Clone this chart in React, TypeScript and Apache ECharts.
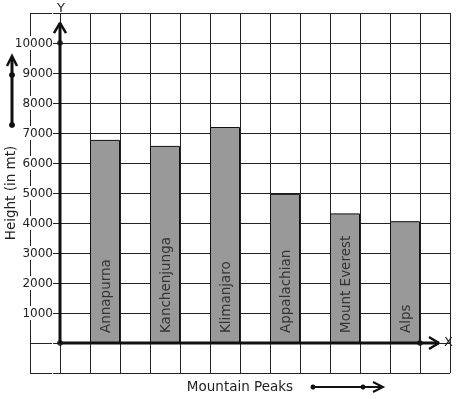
import React, { useEffect, useRef } from "react";
import * as echarts from "echarts";

const categories = ["Annapurna", "Kanchenjunga", "Klimanjaro", "Appalachian", "Mount Everest", "Alps"];
const heights = [6770, 6570, 7200, 4970, 4320, 4060];
const yTicks = [1000, 2000, 3000, 4000, 5000, 6000, 7000, 8000, 9000, 10000];

const FONT = "DejaVu Sans";

export default function App() {
  const ref = useRef<HTMLDivElement>(null);
  useEffect(() => {
    if (!ref.current) return;
    const chart = echarts.init(ref.current, null, { renderer: "svg" });
    const black = "#111";
    chart.setOption({
      animation: false,
      textStyle: { fontFamily: FONT },
      grid: { left: 30, right: 7, top: 13, bottom: 26, containLabel: false, outerBoundsMode: "none" },
      xAxis: {
        type: "value",
        min: -1,
        max: 13,
        interval: 1,
        axisLine: { show: false },
        axisTick: { show: false },
        axisLabel: { show: false },
        splitLine: { show: true, lineStyle: { color: "#222", width: 1 } },
        name: "Mountain Peaks",
        nameLocation: "middle",
        nameGap: 13,
        nameMoveOverlap: false,
        nameTextStyle: { fontFamily: FONT, fontSize: 13.5, color: "#222", verticalAlign: "middle" },
      },
      yAxis: {
        type: "value",
        min: -1000,
        max: 11000,
        interval: 1000,
        offset: -30,
        axisLine: { show: false },
        axisTick: { show: true, length: 5, lineStyle: { color: "#222", width: 1 } },
        axisLabel: {
          show: true,
          margin: 7,
          fontFamily: FONT,
          fontSize: 12,
          color: "#222",
          backgroundColor: "#fff",
          padding: [1, 0, 1, 1],
          formatter: (v: number) => (yTicks.indexOf(v) >= 0 ? String(v) : ""),
        },
        splitLine: { show: true, lineStyle: { color: "#222", width: 1 } },
        name: "Height (in mt)",
        nameLocation: "middle",
        nameGap: 50,
        nameMoveOverlap: false,
        nameTextStyle: { fontFamily: FONT, fontSize: 13.5, color: "#222", verticalAlign: "middle" },
      },
      series: [
        {
          type: "bar",
          barWidth: 30,
          data: categories.map((c, i) => ({ name: c, value: [1.5 + 2 * i, heights[i]] })),
          itemStyle: { color: "#999999", borderColor: "#111", borderWidth: 1 },
          label: {
            show: true,
            formatter: "{b}",
            position: "insideBottom",
            rotate: 90,
            align: "left",
            verticalAlign: "middle",
            distance: 10,
            fontFamily: FONT,
            fontSize: 13.5,
            color: "#333",
          },
          z: 2,
        },
        {
          type: "line",
          data: [[0, 0], [0, 10670]],
          symbol: "none",
          lineStyle: { color: black, width: 3 },
          z: 5,
        },
        {
          type: "line",
          data: [[-0.2, 10330], [0, 10670], [0.2, 10330]],
          symbol: "none",
          lineStyle: { color: black, width: 2.5 },
          z: 5,
        },
        {
          type: "line",
          data: [[0, 0], [12.63, 0]],
          symbol: "none",
          lineStyle: { color: black, width: 3 },
          z: 5,
        },
        {
          type: "line",
          data: [[12.3, 200], [12.63, 0], [12.3, -200]],
          symbol: "none",
          lineStyle: { color: black, width: 2.5 },
          z: 5,
        },
        {
          type: "scatter",
          data: [[0, 0], [0, 10000], [12, 0]],
          symbol: "circle",
          symbolSize: 6,
          itemStyle: { color: black },
          z: 6,
        },
      ],
      graphic: [
        { type: "text", left: 57, top: 1, style: { text: "Y", font: `13px '${FONT}'`, fill: "#222" } },
        { type: "text", left: 444, top: 335, style: { text: "X", font: `13px '${FONT}'`, fill: "#222" } },
        { type: "line", shape: { x1: 12, y1: 125, x2: 12, y2: 57 }, style: { stroke: black, lineWidth: 3 } },
        { type: "polyline", shape: { points: [[7, 66], [12, 56], [17, 66]] }, style: { stroke: black, lineWidth: 2.5, fill: "none" } },
        { type: "circle", shape: { cx: 12, cy: 125, r: 3 }, style: { fill: black } },
        { type: "circle", shape: { cx: 12, cy: 75, r: 3 }, style: { fill: black } },
        { type: "line", shape: { x1: 313, y1: 387, x2: 382, y2: 387 }, style: { stroke: black, lineWidth: 2 } },
        { type: "polyline", shape: { points: [[373, 382], [383, 387], [373, 392]] }, style: { stroke: black, lineWidth: 2, fill: "none" } },
        { type: "circle", shape: { cx: 313, cy: 387, r: 2.5 }, style: { fill: black } },
        { type: "circle", shape: { cx: 363, cy: 387, r: 2.5 }, style: { fill: black } },
      ],
    });
    return () => chart.dispose();
  }, []);
  return <div ref={ref} style={{ position: "fixed", left: 0, top: 0, width: 457, height: 399 }} />;
}
